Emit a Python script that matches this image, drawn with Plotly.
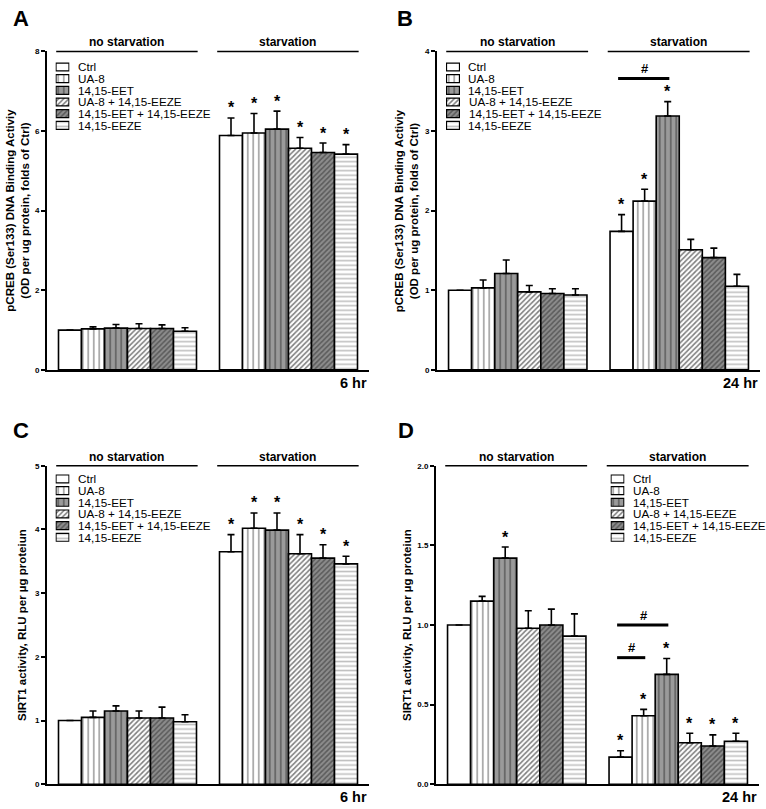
import plotly.graph_objects as go

W, H = 766, 809
FONT = "Arial, Liberation Sans, sans-serif"

series = ["Ctrl", "UA-8", "14,15-EET", "UA-8 + 14,15-EEZE",
          "14,15-EET + 14,15-EEZE", "14,15-EEZE"]
groups = ["no starvation", "starvation"]

# ---- Panel A: pCREB, 6 hr ----
a_nostarv = [1.00, 1.03, 1.05, 1.04, 1.04, 0.97]
a_nostarv_err = [0.00, 0.05, 0.09, 0.12, 0.09, 0.09]
a_starv = [5.89, 5.95, 6.05, 5.57, 5.46, 5.42]
a_starv_err = [0.44, 0.49, 0.45, 0.27, 0.24, 0.24]
a_sig_nostarv = [0, 0, 0, 0, 0, 0]
a_sig_starv = [1, 1, 1, 1, 1, 1]

# ---- Panel B: pCREB, 24 hr ----
b_nostarv = [1.00, 1.03, 1.21, 0.98, 0.96, 0.94]
b_nostarv_err = [0.00, 0.10, 0.17, 0.08, 0.06, 0.08]
b_starv = [1.74, 2.12, 3.19, 1.51, 1.41, 1.05]
b_starv_err = [0.21, 0.15, 0.18, 0.13, 0.12, 0.15]
b_sig_nostarv = [0, 0, 0, 0, 0, 0]
b_sig_starv = [1, 1, 1, 0, 0, 0]
b_hash = [(0, 2, 3.66)]  # (from series, to series, level) within starvation group

# ---- Panel C: SIRT1, 6 hr ----
c_nostarv = [1.00, 1.05, 1.15, 1.04, 1.04, 0.98]
c_nostarv_err = [0.00, 0.10, 0.08, 0.11, 0.17, 0.11]
c_starv = [3.65, 4.02, 3.99, 3.62, 3.55, 3.46]
c_starv_err = [0.27, 0.24, 0.27, 0.30, 0.21, 0.12]
c_sig_nostarv = [0, 0, 0, 0, 0, 0]
c_sig_starv = [1, 1, 1, 1, 1, 1]

# ---- Panel D: SIRT1, 24 hr ----
d_nostarv = [1.00, 1.15, 1.42, 0.98, 1.00, 0.93]
d_nostarv_err = [0.00, 0.03, 0.07, 0.11, 0.10, 0.14]
d_starv = [0.17, 0.43, 0.69, 0.26, 0.24, 0.27]
d_starv_err = [0.04, 0.04, 0.10, 0.06, 0.07, 0.05]
d_sig_nostarv = [0, 0, 1, 0, 0, 0]
d_sig_starv = [1, 1, 1, 1, 1, 1]
d_hash = [(0, 2, 1.00), (0, 1, 0.795)]

title_pcreb = "pCREB (Ser133) DNA Binding Activiy<br>(OD per ug protein, folds of Ctrl)"
title_sirt = "SIRT1 activity, RLU per µg proteiun"

# ---- styles ----
fill_colors = ["white", "white", "#9a9a9a", "white", "#8c8c8c", "white"]
pat_shape = ["", "|", "|", "/", "/", "-"]
pat_fg = ["black", "black", "#2a2a2a", "black", "#2a2a2a", "#808080"]
pat_size = [6, 5.5, 5.5, 3.6, 3.6, 4.5]
pat_sol = [0.2, 0.22, 0.3, 0.45, 0.45, 0.35]


def marker_for(i, lw=1.6):
    m = dict(color=fill_colors[i], line=dict(color="black", width=lw))
    if pat_shape[i]:
        m["pattern"] = dict(shape=pat_shape[i], fgcolor=pat_fg[i], bgcolor=fill_colors[i],
                            size=pat_size[i], solidity=pat_sol[i], fillmode="overlay")
    return m


panels = [
    dict(letter="A", ns=a_nostarv, nse=a_nostarv_err, s=a_starv, se=a_starv_err,
         sns=a_sig_nostarv, ss=a_sig_starv, hashes=[], ymax=8, dtick=2, fmt="d",
         ytitle=title_pcreb, time="6 hr", dx=(47, 369), dy=(48, 370), lxy=(21, 15),
         tx=18, leg=(56, 63.7)),
    dict(letter="B", ns=b_nostarv, nse=b_nostarv_err, s=b_starv, se=b_starv_err,
         sns=b_sig_nostarv, ss=b_sig_starv, hashes=b_hash, ymax=4, dtick=1, fmt="d",
         ytitle=title_pcreb, time="24 hr", dx=(437, 760), dy=(48, 370), lxy=(405, 15),
         tx=406.5, leg=(446.5, 63.7)),
    dict(letter="C", ns=c_nostarv, nse=c_nostarv_err, s=c_starv, se=c_starv_err,
         sns=c_sig_nostarv, ss=c_sig_starv, hashes=[], ymax=5, dtick=1, fmt="d",
         ytitle=title_sirt, time="6 hr", dx=(47, 369), dy=(467, 789), lxy=(21, 431),
         tx=22, leg=(56, 480.3)),
    dict(letter="D", ns=d_nostarv, nse=d_nostarv_err, s=d_starv, se=d_starv_err,
         sns=d_sig_nostarv, ss=d_sig_starv, hashes=d_hash, ymax=2, dtick=0.5, fmt=".1f",
         ytitle=title_sirt, time="24 hr", dx=(436, 759), dy=(467, 789), lxy=(406, 431),
         tx=407, leg=(611, 480.3)),
]

LEG_PITCH = 11.8
n = len(series)


def nm(prefix, k):
    return prefix + ("" if k == 1 else str(k))


def px2x(px):
    return px / W


def px2y(py):
    return 1 - py / H


def pos(g, i):
    return i + 1 + g * (n + 1)


fig = go.Figure()
layout = dict(width=W, height=H, margin=dict(l=0, r=0, t=0, b=0),
              paper_bgcolor="white", plot_bgcolor="white", showlegend=False,
              barmode="overlay", font=dict(family=FONT, color="black"))
shapes, annotations = [], []

for k, p in enumerate(panels, start=1):
    xr, yr = nm("x", k), nm("y", k)
    x0, x1 = p["dx"]
    ytop, ybot = p["dy"]
    layout[nm("xaxis", k)] = dict(domain=[px2x(x0), px2x(x1)], range=[0, 2 * (n + 1)],
                                  showline=True, linewidth=2, linecolor="black",
                                  showgrid=False, zeroline=False, showticklabels=False,
                                  ticks="", anchor=yr, fixedrange=True)
    layout[nm("yaxis", k)] = dict(domain=[px2y(ybot), px2y(ytop)], range=[0, p["ymax"]],
                                  showline=True, linewidth=2, linecolor="black",
                                  showgrid=False, zeroline=False, ticks="outside",
                                  ticklen=4, tickwidth=1.5, tickcolor="black",
                                  dtick=p["dtick"], tickformat=p["fmt"],
                                  tickfont=dict(size=8, family=FONT, weight="bold"),
                                  anchor=xr, fixedrange=True)
    vals = [p["ns"], p["s"]]
    errs = [p["nse"], p["se"]]
    sigs = [p["sns"], p["ss"]]
    for i, name in enumerate(series):
        fig.add_trace(go.Bar(
            x=[pos(0, i), pos(1, i)], y=[vals[0][i], vals[1][i]], width=[1, 1],
            xaxis=xr, yaxis=yr, name=name, marker=marker_for(i),
            error_y=dict(type="data", symmetric=False,
                         array=[errs[0][i], errs[1][i]], arrayminus=[0, 0],
                         thickness=1.6, width=3.5, color="black")))
    # significance stars
    for g in range(2):
        for i in range(n):
            if sigs[g][i]:
                annotations.append(dict(x=pos(g, i), y=vals[g][i] + errs[g][i], xref=xr, yref=yr,
                                        text="*", showarrow=False, yanchor="middle", yshift=10,
                                        font=dict(size=16, family=FONT, weight="bold")))
    # # brackets (starvation group)
    for (i, j, lvl) in p["hashes"]:
        shapes.append(dict(type="line", xref=xr, yref=yr, x0=pos(1, i) - 0.15, x1=pos(1, j) + 0.07,
                           y0=lvl, y1=lvl, line=dict(color="black", width=3)))
        annotations.append(dict(x=(pos(1, i) + pos(1, j)) / 2, y=lvl, xref=xr, yref=yr, text="#",
                                showarrow=False, yanchor="middle", yshift=10,
                                font=dict(size=13, family=FONT, weight="bold")))
    # group headers
    for g, gname in enumerate(groups):
        gx0 = pos(g, 0) - 0.6
        gx1 = pos(g, n - 1) + 0.55
        shapes.append(dict(type="line", xref=xr, yref=f"{yr} domain", x0=gx0, x1=gx1, y0=1, y1=1,
                           line=dict(color="black", width=1.5)))
        annotations.append(dict(x=(gx0 + gx1) / 2, y=1, xref=xr, yref=f"{yr} domain", text=gname,
                                showarrow=False, yanchor="bottom", yshift=0,
                                font=dict(size=12, family=FONT, weight="bold")))
    # time label
    annotations.append(dict(x=1, y=0, xref=f"{xr} domain", yref=f"{yr} domain", text=p["time"],
                            showarrow=False, xanchor="right", yanchor="top", yshift=-3,
                            font=dict(size=14.5, family=FONT, weight="bold")))
    # panel letter
    annotations.append(dict(x=px2x(p["lxy"][0]), y=px2y(p["lxy"][1]), xref="paper", yref="paper",
                            text=p["letter"], showarrow=False, xanchor="center", yanchor="middle",
                            font=dict(size=22, family=FONT, weight="bold")))
    # y title
    annotations.append(dict(x=px2x(p["tx"]), y=px2y((ytop + ybot) / 2), xref="paper", yref="paper",
                            text=p["ytitle"], showarrow=False, textangle=-90,
                            xanchor="center", yanchor="middle",
                            font=dict(size=11.5, family=FONT, weight="bold")))
    # legend (swatches on a small hidden axis + text)
    lk = k + 4
    lx, ly = p["leg"]
    layout[nm("xaxis", lk)] = dict(domain=[px2x(lx - 0.5), px2x(lx + 13.5)], range=[-0.04, 1.04],
                                   visible=False, anchor=nm("y", lk), fixedrange=True)
    layout[nm("yaxis", lk)] = dict(domain=[px2y(ly + (n - 0.5) * LEG_PITCH),
                                           px2y(ly - 0.5 * LEG_PITCH)],
                                   range=[n - 0.5, -0.5], visible=False,
                                   anchor=nm("x", lk), fixedrange=True)
    for i, name in enumerate(series):
        fig.add_trace(go.Bar(x=[1], y=[i], base=0, width=[0.68], orientation="h",
                             xaxis=nm("x", lk), yaxis=nm("y", lk), name=name,
                             marker=marker_for(i, lw=1.2), hoverinfo="skip"))
        annotations.append(dict(x=px2x(lx + 20), y=px2y(ly + i * LEG_PITCH), xref="paper",
                                yref="paper", text=name, showarrow=False, xanchor="left",
                                yanchor="middle", font=dict(size=11.7, family=FONT)))

layout["shapes"] = shapes
layout["annotations"] = annotations
fig.update_layout(**layout)
fig.write_html("out.html", config={"displayModeBar": False},
               post_script="document.body.style.margin='0';document.body.style.padding='0';")
